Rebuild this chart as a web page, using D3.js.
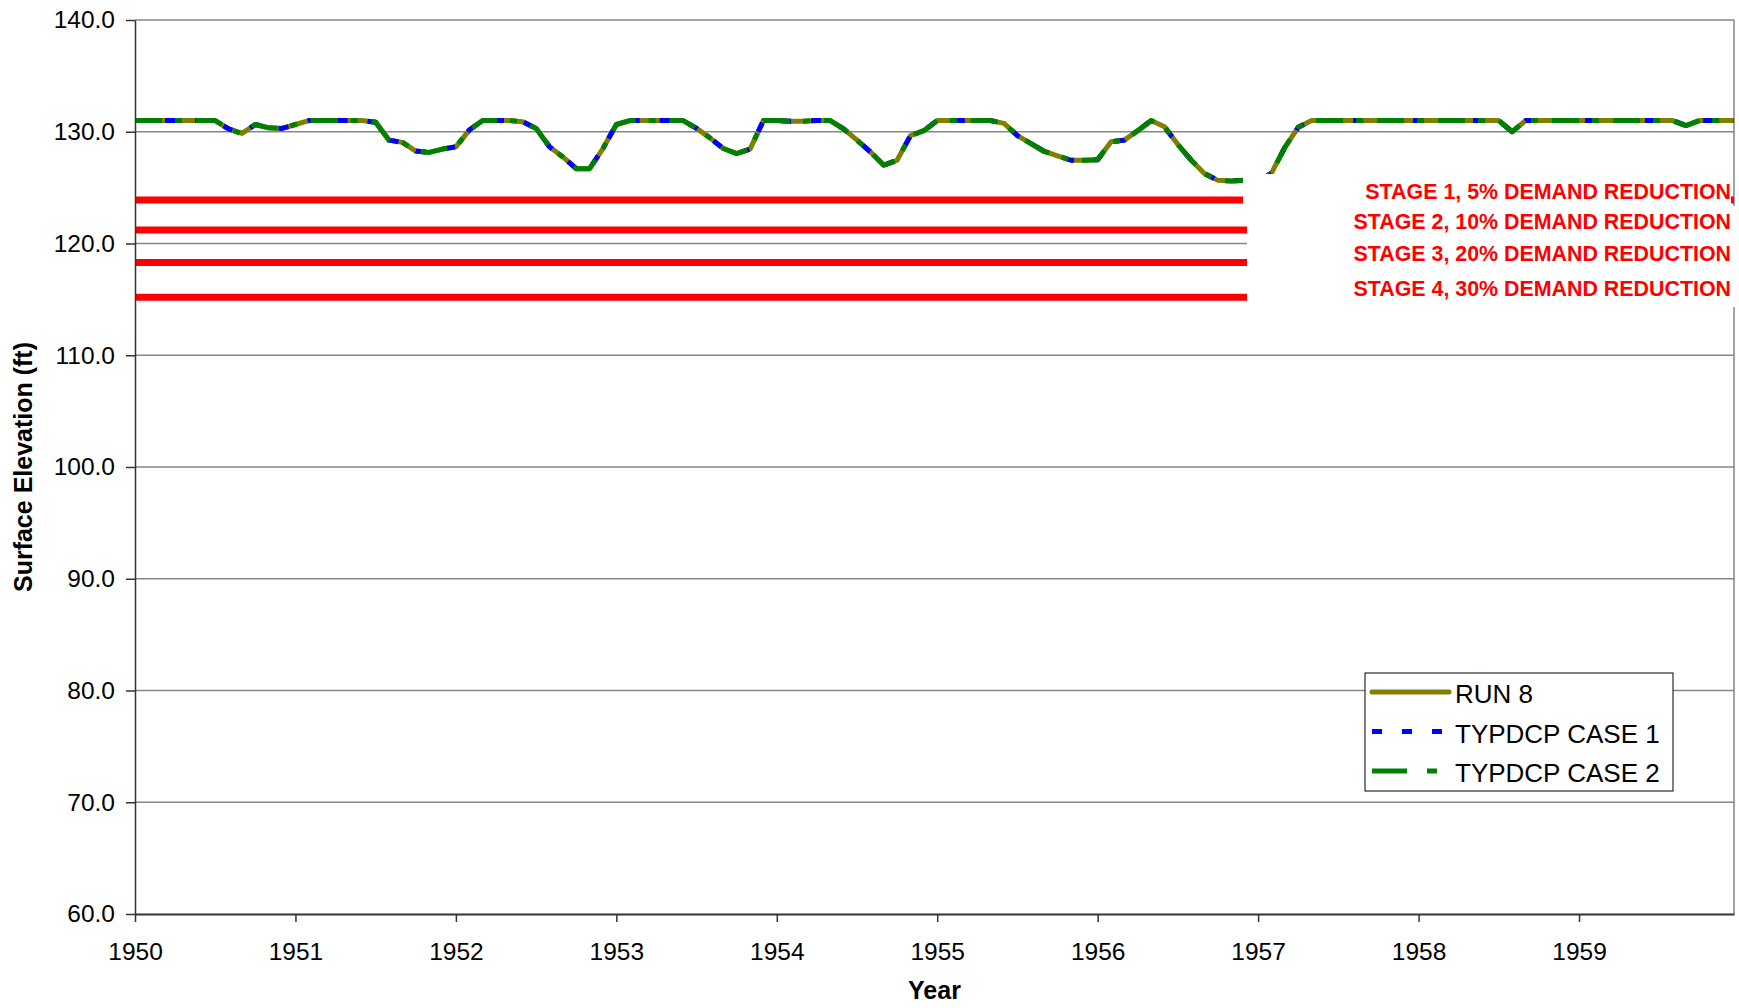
<!DOCTYPE html>
<html><head><meta charset="utf-8">
<script src="https://cdn.jsdelivr.net/npm/d3@7"></script>
<style>
html,body{margin:0;padding:0;background:#fff;}
svg{display:block;font-family:"Liberation Sans",Arial,sans-serif;}
</style></head><body>
<svg id="chart" width="1739" height="1008"></svg>
<script>
// ---------- data ----------
const startYear = 1950;               // first monthly value = Jan 1950
const yearTicks = [1950,1951,1952,1953,1954,1955,1956,1957,1958,1959];
const yTicks = [60,70,80,90,100,110,120,130,140];
const seriesNames = ["RUN 8","TYPDCP CASE 1","TYPDCP CASE 2"];

const run8 = [
131.0,131.0,131.0,131.0,131.0,131.0,131.0,130.25,129.85,130.65,130.35,130.3,
130.65,131.0,131.0,131.0,131.0,131.0,130.85,129.25,129.05,128.27,128.15,128.45,
128.65,130.15,131.0,131.0,131.0,130.9,130.3,128.65,127.75,126.7,126.7,128.5,
130.65,131.0,131.0,131.0,131.0,131.0,130.3,129.45,128.5,128.05,128.45,131.0,
131.0,130.95,130.95,131.0,131.0,130.25,129.25,128.2,127.0,127.45,129.65,130.1,
131.0,131.0,131.0,131.0,131.0,130.75,129.65,128.95,128.25,127.85,127.45,127.45,
127.5,129.1,129.25,130.1,131.0,130.45,128.85,127.45,126.25,125.65,125.6,125.65,
125.5,126.3,128.6,130.4,131.0,131.0,131.0,131.0,131.0,131.0,131.0,131.0,
131.0,131.0,131.0,131.0,131.0,131.0,131.0,130.0,131.0,131.0,131.0,131.0,
131.0,131.0,131.0,131.0,131.0,131.0,131.0,131.0,130.55,131.0,131.0,131.0,
131.0];
const case1 = [
131.0,131.0,131.0,131.0,131.0,131.0,131.0,130.25,129.85,130.65,130.35,130.3,
130.65,131.0,131.0,131.0,131.0,131.0,130.85,129.25,129.05,128.27,128.15,128.45,
128.65,130.15,131.0,131.0,131.0,130.9,130.3,128.65,127.75,126.7,126.7,128.5,
130.65,131.0,131.0,131.0,131.0,131.0,130.3,129.45,128.5,128.05,128.45,131.0,
131.0,130.95,130.95,131.0,131.0,130.25,129.25,128.2,127.0,127.45,129.65,130.1,
131.0,131.0,131.0,131.0,131.0,130.75,129.65,128.95,128.25,127.85,127.45,127.45,
127.5,129.1,129.25,130.1,131.0,130.45,128.85,127.45,126.25,125.65,125.6,125.65,
125.5,126.3,128.6,130.4,131.0,131.0,131.0,131.0,131.0,131.0,131.0,131.0,
131.0,131.0,131.0,131.0,131.0,131.0,131.0,130.0,131.0,131.0,131.0,131.0,
131.0,131.0,131.0,131.0,131.0,131.0,131.0,131.0,130.55,131.0,131.0,131.0,
131.0];
const case2 = [
131.0,131.0,131.0,131.0,131.0,131.0,131.0,130.25,129.85,130.65,130.35,130.3,
130.65,131.0,131.0,131.0,131.0,131.0,130.85,129.25,129.05,128.27,128.15,128.45,
128.65,130.15,131.0,131.0,131.0,130.9,130.3,128.65,127.75,126.7,126.7,128.5,
130.65,131.0,131.0,131.0,131.0,131.0,130.3,129.45,128.5,128.05,128.45,131.0,
131.0,130.95,130.95,131.0,131.0,130.25,129.25,128.2,127.0,127.45,129.65,130.1,
131.0,131.0,131.0,131.0,131.0,130.75,129.65,128.95,128.25,127.85,127.45,127.45,
127.5,129.1,129.25,130.1,131.0,130.45,128.85,127.45,126.25,125.65,125.6,125.65,
125.5,126.3,128.6,130.4,131.0,131.0,131.0,131.0,131.0,131.0,131.0,131.0,
131.0,131.0,131.0,131.0,131.0,131.0,131.0,130.0,131.0,131.0,131.0,131.0,
131.0,131.0,131.0,131.0,131.0,131.0,131.0,131.0,130.55,131.0,131.0,131.0,
131.0];

const stageLevels = [123.9, 121.2, 118.3, 115.2];
const stageLabels = ["STAGE 1, 5% DEMAND REDUCTION","STAGE 2, 10% DEMAND REDUCTION",
                     "STAGE 3, 20% DEMAND REDUCTION","STAGE 4, 30% DEMAND REDUCTION"];

// ---------- layout ----------
const M = {left:135, right:1734, top:20, bottom:914};
const svg = d3.select("#chart");
const x = d3.scaleLinear().domain([1950, 1959.966]).range([M.left, M.right]);
const y = d3.scaleLinear().domain([60, 140]).range([M.bottom, M.top]);
const gridCol = "#868686";

svg.append("defs").append("clipPath").attr("id","plotclip")
  .append("rect").attr("x",M.left).attr("y",M.top)
  .attr("width",M.right-M.left).attr("height",M.bottom-M.top);

// gridlines
svg.append("g").selectAll("line").data(yTicks.filter(t=>t>60)).join("line")
  .attr("x1",M.left).attr("x2",M.right)
  .attr("y1",d=>y(d)).attr("y2",d=>y(d))
  .attr("stroke",gridCol).attr("stroke-width",1.5);
// right border
svg.append("line").attr("x1",M.right).attr("x2",M.right)
  .attr("y1",M.top).attr("y2",M.bottom).attr("stroke",gridCol).attr("stroke-width",1.5);

// stage lines
svg.append("g").selectAll("line").data(stageLevels).join("line")
  .attr("x1",M.left).attr("x2",M.right)
  .attr("y1",d=>y(d)).attr("y2",d=>y(d))
  .attr("stroke","#FF0000").attr("stroke-width",7);

// series
const line = d3.line().x((d,i)=>x(startYear + i/12)).y(d=>y(d));
const styles = [
  {data:run8,  color:"#808000", dash:null},
  {data:case1, color:"#0000FF", dash:"10,20"},
  {data:case2, color:"#008000", dash:"27,13,7,14"}
];
const gS = svg.append("g").attr("clip-path","url(#plotclip)");
styles.forEach(s=>{
  gS.append("path").datum(s.data).attr("d",line)
    .attr("fill","none").attr("stroke",s.color).attr("stroke-width",5)
    .attr("stroke-linejoin","round")
    .attr("stroke-dasharray",s.dash);
});

// white label boxes (as in original text boxes)
svg.append("rect").attr("x",1243).attr("y",174).attr("width",1731-1243).attr("height",32).attr("fill","#fff");
svg.append("rect").attr("x",1247).attr("y",206).attr("width",1739-1247).attr("height",101).attr("fill","#fff");
svg.append("g").selectAll("text").data(stageLabels).join("text")
  .attr("x",1731).attr("y",(d,i)=>y(stageLevels[i])-1)
  .attr("text-anchor","end").attr("fill","#FF0000")
  .attr("font-weight","bold").attr("font-size","21.4px")
  .text(d=>d);

// axes
const axL = svg.append("g").attr("transform",`translate(${M.left},0)`)
  .call(d3.axisLeft(y).tickValues(yTicks).tickFormat(d3.format(".1f"))
        .tickSize(9).tickSizeOuter(0).tickPadding(11));
axL.selectAll("text").attr("font-size","24.5px").attr("fill","#000")
   .attr("font-family","'Liberation Sans',Arial,sans-serif");
axL.selectAll("line").attr("stroke","#333").attr("stroke-width",1.5);
axL.select(".domain").attr("stroke","#333").attr("stroke-width",1.5);

const axB = svg.append("g").attr("transform",`translate(0,${M.bottom})`)
  .call(d3.axisBottom(x).tickValues(yearTicks).tickFormat(d3.format("d"))
        .tickSize(8).tickSizeOuter(0).tickPadding(21));
axB.selectAll("text").attr("font-size","24.5px").attr("fill","#000")
   .attr("font-family","'Liberation Sans',Arial,sans-serif");
axB.selectAll("line").attr("stroke","#333").attr("stroke-width",1.5);
axB.select(".domain").attr("stroke","#333").attr("stroke-width",2);

// axis titles
svg.append("text").attr("transform",`translate(32,${(M.top+M.bottom)/2}) rotate(-90)`)
  .attr("text-anchor","middle").attr("font-weight","bold").attr("font-size","25px")
  .text("Surface Elevation (ft)");
svg.append("text").attr("x",(M.left+M.right)/2).attr("y",999)
  .attr("text-anchor","middle").attr("font-weight","bold").attr("font-size","25px")
  .text("Year");

// legend
const lg = svg.append("g");
lg.append("rect").attr("x",1365).attr("y",673).attr("width",308).attr("height",118)
  .attr("fill","#fff").attr("stroke","#000").attr("stroke-width",1);
const rowY = [692, 731.5, 771];
styles.forEach((s,i)=>{
  lg.append("line").attr("x1",1372).attr("x2",1449).attr("y1",rowY[i]).attr("y2",rowY[i])
    .attr("stroke",s.color).attr("stroke-width",5)
    .attr("stroke-linecap", s.dash ? "butt" : "round")
    .attr("stroke-dasharray", i===1 ? "10,20" : (i===2 ? "35,20,10,20" : null));
  lg.append("text").attr("x",1455).attr("y",rowY[i]+11)
    .attr("font-size","26px").attr("fill","#000").text(seriesNames[i]);
});
</script>
</body></html>
